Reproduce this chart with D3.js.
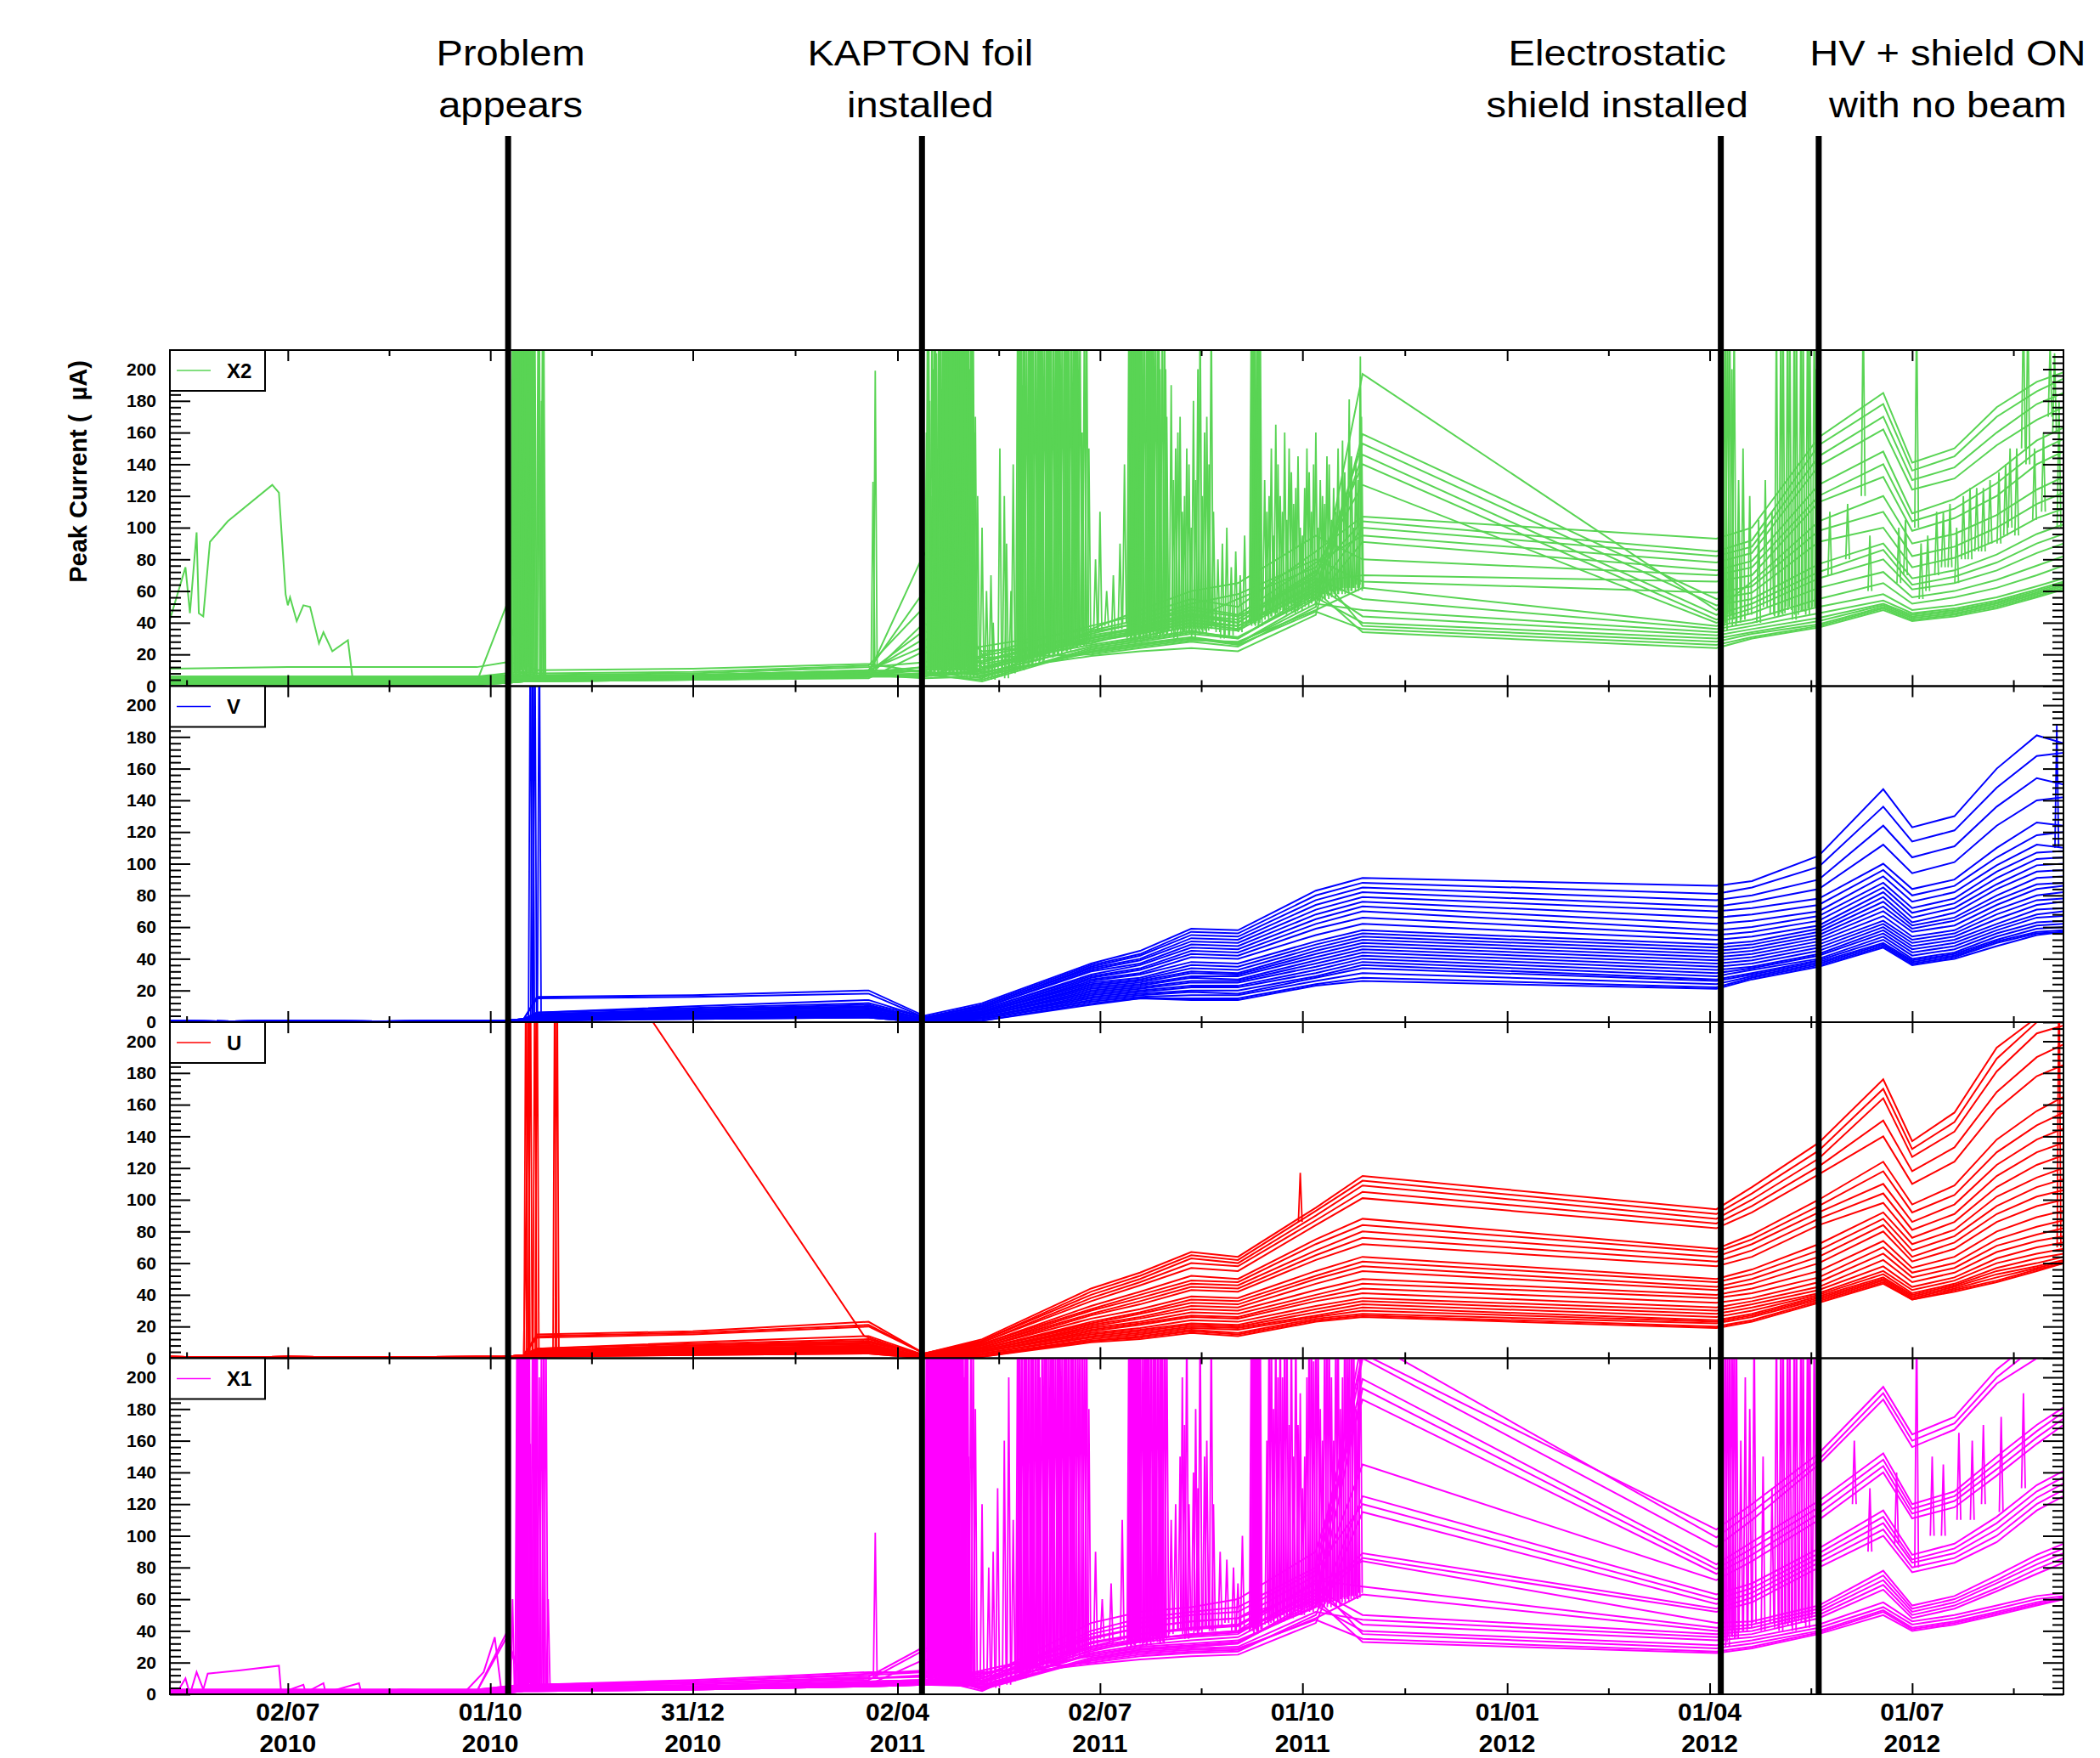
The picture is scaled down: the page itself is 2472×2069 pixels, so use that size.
<!DOCTYPE html>
<html>
<head>
<meta charset="utf-8">
<script src="https://cdn.jsdelivr.net/npm/d3@7"></script>
<style>
  body { margin: 0; background: #fff; }
  svg text { font-family: "Liberation Sans", Arial, Helvetica, sans-serif; }
</style>
</head>
<body>
<svg id="chart" width="2472" height="2069"></svg>
<script>
// ---------------- data ----------------
// common sampling dates for the channel tables (one row per date, one column per channel)
const sampleDates = ["2010-05-10","2010-07-02","2010-09-25","2010-10-08","2010-10-16","2010-10-22","2010-12-31",
  "2011-03-20","2011-04-14","2011-05-10","2011-06-28","2011-07-20","2011-08-12","2011-09-02","2011-10-07",
  "2011-10-28","2012-04-04","2012-04-20","2012-05-20","2012-06-18","2012-07-01","2012-07-20","2012-08-08",
  "2012-08-26","2012-09-07"];

const x2Values = [
  [3,5,2,4,1,6,3,2,5,1,4,2,3,6,11,1,2,5,3,4,2,1],
  [3,5,2,4,1,6,3,2,5,1,4,2,3,6,12,1,2,5,3,4,2,1],
  [3,6,2,4,1,6,3,2,5,1,4,2,3,6,12,1,2,5,3,4,2,1],
  [4,6,3,5,2,7,4,3,6,2,5,3,4,8,15,2,3,6,50,5,3,2],
  [5,7,4,6,3,8,5,4,7,3,6,4,5,9,14,3,4,7,8,6,4,3],
  [5,6,4,6,3,7,5,4,6,3,5,4,5,8,10,3,4,6,5,5,4,3],
  [6,7,5,7,4,8,6,5,7,4,6,5,6,9,11,4,5,7,6,6,5,4],
  [8,10,6,9,5,12,8,7,10,6,9,7,8,13,14,6,7,10,8,9,7,6],
  [84,60,40,30,22,15,12,10,9,8,35,7,10,50,9,6,8,25,7,12,5,6],
  [20,12,8,15,6,25,10,18,5,9,14,4,11,22,7,16,3,12,8,19,6,10],
  [38,30,25,33,22,36,28,20,35,19,26,24,31,27,21,34,23,29,25,32,22,30],
  [45,38,30,40,26,48,33,24,42,22,31,28,36,35,25,40,27,34,29,37,26,35],
  [55,46,35,50,30,60,40,28,52,24,38,33,44,42,29,48,31,40,34,45,30,42],
  [50,40,30,45,27,65,36,25,58,22,35,30,40,55,28,44,27,38,31,42,26,38],
  [85,72,60,78,55,95,66,50,80,45,62,58,70,75,48,68,52,64,56,73,47,60],
  [107,104,100,95,91,80,70,197,66,159,153,146,140,127,62,55,48,44,40,38,36,34],
  [93,85,82,78,73,70,66,48,59,55,51,45,42,40,38,36,34,32,30,28,26,24],
  [100,92,88,84,79,75,70,66,63,59,55,52,49,46,42,40,38,36,34,33,31,30],
  [157,152,145,139,127,120,116,104,98,91,77,72,68,62,55,50,46,43,41,39,38,37],
  [185,178,170,162,148,140,132,120,110,100,90,86,80,72,65,58,54,52,51,50,49,48],
  [141,136,130,124,109,104,98,90,82,75,68,64,61,56,52,48,46,45,44,43,42,41],
  [150,145,138,131,118,112,106,96,88,81,73,69,65,60,56,51,49,48,47,46,45,44],
  [176,170,160,152,135,128,120,108,100,92,83,78,73,67,62,56,54,53,52,51,50,49],
  [192,186,178,168,155,148,140,124,115,106,96,90,84,76,70,63,61,60,59,58,57,56],
  [198,194,185,176,163,156,148,132,122,112,102,96,90,82,76,68,66,65,64,63,62,61]
];

const vValues = [
  [0,0,1,0,0,1,0,0,1,0,0,1,0,0,1,0,0,1,0,0,1,0,0,1,0,0],
  [0,1,0,0,1,0,0,1,0,0,1,0,0,1,0,0,1,0,0,1,0,0,1,0,0,1],
  [1,0,0,1,0,0,1,0,0,1,0,0,1,0,0,1,0,0,1,0,0,1,0,0,1,0],
  [1,1,1,1,1,1,1,1,1,1,1,1,1,0,1,1,0,1,1,0,1,1,0,1,1,0],
  [2,2,2,2,2,1,1,1,1,1,1,1,1,1,1,1,1,1,1,1,1,1,1,1,1,1],
  [16,15,6,6,5,5,5,5,4,4,4,4,3,3,3,3,3,3,2,2,2,2,2,1,1,1],
  [17,16,10,9,8,8,7,7,7,6,6,6,5,5,5,5,4,4,4,4,3,3,3,3,2,2],
  [20,18,14,12,11,10,10,9,9,8,8,7,7,7,6,6,6,5,5,5,4,4,4,3,3,3],
  [4,3,3,3,2,2,2,2,2,1,1,1,1,1,1,1,1,0,0,0,0,0,0,0,0,0],
  [12,11,10,10,9,9,8,8,7,7,6,6,6,5,5,5,4,4,4,3,3,3,2,2,1,1],
  [37,36,35,34,33,32,30,29,28,27,26,25,24,23,22,21,20,19,18,17,16,15,14,13,12,11],
  [45,43,42,40,39,37,36,34,33,31,30,28,27,26,25,24,23,22,21,20,19,18,17,16,15,15],
  [59,57,55,53,51,49,47,45,43,41,38,36,34,32,31,29,28,26,25,23,22,20,19,17,15,14],
  [58,56,54,52,50,48,46,44,42,40,37,35,33,31,30,29,27,26,25,23,22,20,18,17,15,14],
  [83,80,77,74,71,68,65,62,59,55,51,49,47,45,43,41,39,37,35,33,31,29,28,26,24,23],
  [91,88,85,82,79,76,73,70,66,62,58,56,54,52,50,48,46,44,42,40,38,36,34,31,28,26],
  [86,81,77,73,70,66,62,58,55,52,49,47,45,43,41,39,37,35,33,31,29,27,26,24,22,21],
  [89,85,80,76,72,68,64,60,57,54,51,49,47,45,43,41,39,37,35,34,33,31,30,29,28,27],
  [105,98,90,84,78,74,70,67,64,61,59,57,55,53,51,49,47,45,43,42,40,39,38,37,36,35],
  [147,136,124,112,100,96,92,88,85,82,79,76,73,70,67,64,62,60,58,56,54,52,50,49,48,47],
  [123,114,104,94,84,80,76,72,69,66,63,61,59,57,54,52,50,48,46,44,42,40,39,38,37,36],
  [130,121,111,101,90,86,82,78,75,72,69,66,64,61,58,56,54,52,50,48,46,44,43,42,41,40],
  [160,148,136,124,110,104,99,95,91,87,84,80,77,74,71,68,65,62,60,58,56,54,52,51,50,48],
  [181,168,154,140,126,118,112,107,103,99,95,91,87,84,80,77,74,71,68,66,63,61,59,57,56,55],
  [176,170,150,142,124,120,110,108,104,100,96,92,88,86,82,78,76,72,70,67,64,62,60,58,57,57]
];

const uValues = [
  [0,1,0,0,1,0,0,1,0,0,1,0,0,1,0,0,1,0,0,1,0,0,1,0,0,1],
  [1,0,0,1,0,0,1,0,0,1,0,0,1,0,0,1,0,0,1,0,0,1,0,0,1,0],
  [0,0,1,0,0,1,0,0,1,0,0,1,0,0,1,0,0,1,0,0,1,0,0,1,0,0],
  [1,1,1,1,1,1,1,1,1,1,1,1,1,0,1,1,0,1,1,0,1,1,0,1,0,0],
  [2,2,2,2,2,2,1,1,1,1,1,1,1,1,1,1,1,1,1,1,1,1,1,1,1,1],
  [15,14,13,6,6,5,5,5,5,4,4,4,4,3,3,3,3,3,3,2,2,2,2,1,1,1],
  [17,16,15,10,9,8,8,7,7,7,6,6,6,5,5,5,5,4,4,4,4,3,3,3,2,2],
  [23,21,20,14,12,11,10,10,9,9,8,8,7,7,7,6,6,6,5,5,5,4,4,4,3,3],
  [3,3,3,2,2,2,2,2,1,1,1,1,1,1,1,1,1,0,0,0,0,0,0,0,0,0],
  [12,11,11,10,10,9,9,8,8,7,7,6,6,6,5,5,5,4,4,4,3,3,2,2,1,1],
  [44,42,40,38,36,33,31,30,28,27,25,23,22,21,20,19,18,17,16,15,14,13,12,11,11,10],
  [54,52,50,48,46,42,40,38,36,34,31,29,28,26,25,23,22,21,19,18,17,16,15,14,13,12],
  [67,65,63,60,57,52,49,47,45,43,39,37,35,33,31,29,27,26,24,22,21,20,19,18,17,16],
  [64,62,60,58,55,50,48,46,44,42,38,36,34,32,30,28,26,25,23,21,20,19,18,16,15,14],
  [95,93,90,87,84,75,72,68,65,62,55,52,50,47,43,40,38,36,33,31,29,27,26,25,24,23],
  [115,112,109,105,101,88,84,80,76,72,64,61,58,55,50,47,44,41,38,36,34,32,30,28,27,26],
  [94,91,88,85,82,69,67,64,61,58,50,48,45,43,40,38,35,32,30,28,26,24,23,22,20,19],
  [108,104,100,96,92,78,75,72,68,64,56,53,50,47,44,41,38,36,34,32,30,28,27,26,24,23],
  [136,131,126,121,116,100,96,92,88,84,72,68,64,60,55,51,48,45,43,41,40,39,38,37,36,35],
  [176,170,164,150,140,124,118,110,104,98,92,88,84,80,74,70,66,62,58,55,53,51,50,49,48,47],
  [137,132,127,118,110,97,92,86,81,76,72,68,64,61,57,54,51,48,45,43,41,40,39,38,37,37],
  [155,149,143,133,124,109,103,97,91,86,81,77,73,69,64,60,57,54,51,49,47,46,45,44,43,42],
  [196,189,181,168,157,138,130,122,115,108,102,96,91,86,80,75,71,67,63,60,57,55,53,51,49,48],
  [215,212,205,190,178,156,147,138,130,122,114,108,102,96,89,83,78,74,70,66,63,60,58,57,56,55],
  [225,218,210,198,185,165,155,145,136,128,120,113,106,100,93,87,82,77,73,69,66,64,62,61,60,60]
];

const x1Values = [
  [1,0,2,1,0,1,2,0,1,3,0,1,2,0,1,0,2,1,0,1,3,0],
  [1,0,2,1,0,1,2,0,1,3,0,1,2,0,1,0,2,1,0,1,3,0],
  [1,1,2,1,0,1,2,1,1,3,0,1,2,1,1,0,2,1,1,1,3,0],
  [3,2,35,2,1,3,4,2,3,5,1,2,4,2,3,1,38,3,2,3,5,1],
  [4,3,5,3,2,4,5,3,4,6,2,3,5,3,4,2,6,4,3,4,6,2],
  [4,3,5,3,2,4,5,3,4,6,2,3,5,3,4,2,6,4,3,4,6,2],
  [6,4,7,4,3,5,7,4,5,8,3,4,7,4,5,3,8,5,4,5,9,3],
  [9,6,10,6,5,8,11,6,8,12,5,6,10,6,7,5,13,8,6,7,14,5],
  [28,7,12,22,6,9,30,7,9,14,6,8,11,7,8,6,15,9,7,8,14,6],
  [8,15,4,12,6,10,3,14,7,11,5,13,2,9,6,12,4,8,5,10,3,7],
  [40,30,22,36,25,45,28,20,38,19,26,24,33,27,21,35,23,30,25,32,22,29],
  [48,38,28,42,30,52,33,24,45,22,31,28,38,34,25,42,27,35,29,38,26,34],
  [52,42,30,46,32,55,36,26,50,24,34,30,42,38,27,46,29,37,31,41,28,38],
  [55,44,32,48,34,60,38,27,52,25,36,32,44,40,28,48,30,39,33,43,29,40],
  [80,70,60,75,55,90,66,50,78,45,62,58,70,72,48,66,52,64,56,70,47,60],
  [215,225,212,199,193,186,145,125,120,115,89,86,84,68,63,50,47,44,40,38,35,33],
  [104,99,93,82,79,76,72,63,60,57,54,52,45,42,40,38,36,34,31,29,27,26],
  [120,115,110,96,92,88,84,70,67,64,61,58,46,44,42,40,38,36,34,32,30,29],
  [152,148,145,122,118,114,110,92,89,86,83,80,56,54,52,50,48,44,42,40,39,38],
  [194,190,186,152,148,144,140,116,112,108,104,100,78,75,72,69,66,58,55,53,52,50],
  [164,160,156,120,117,114,111,88,85,83,80,77,56,54,52,50,48,46,44,42,41,40],
  [175,171,167,128,125,122,118,95,92,89,86,83,62,60,58,56,54,50,48,46,45,44],
  [205,200,196,150,146,142,138,112,108,104,100,96,75,72,70,67,65,56,54,52,51,50],
  [225,220,212,170,166,162,158,132,128,124,120,116,88,85,82,79,76,62,60,58,57,56],
  [235,228,220,181,178,174,170,141,137,133,129,125,95,92,89,86,83,64,62,61,60,60]
];

// channels that need their own dates
const x2Hump = [["2010-05-10",42],["2010-05-17",75],["2010-05-19",46],["2010-05-22",97],["2010-05-23",46],
  ["2010-05-25",44],["2010-05-28",91],["2010-06-05",104],["2010-06-25",127],["2010-06-28",122],["2010-07-01",58],
  ["2010-07-02",51],["2010-07-03",56],["2010-07-06",41],["2010-07-09",51],["2010-07-12",50],["2010-07-16",27],
  ["2010-07-18",34],["2010-07-22",22],["2010-07-29",29],["2010-07-31",6],["2010-08-05",3],["2010-09-25",3],["2010-10-08",6]];
const x1Hump = [["2010-05-10",1],["2010-05-14",3],["2010-05-17",10],["2010-05-19",0],["2010-05-22",14],["2010-05-25",3],
  ["2010-05-27",13],["2010-06-10",15],["2010-06-28",18],["2010-06-29",1],["2010-07-09",6],["2010-07-10",1],["2010-07-18",7],
  ["2010-07-19",1],["2010-08-03",7],["2010-08-04",1],["2010-08-22",3],["2010-09-20",2],["2010-09-28",14],["2010-10-03",36],["2010-10-06",2]];
const uDiagonal = [["2010-10-16",2],["2010-10-20",325],["2011-03-18",14],["2011-04-14",1]];

// short bursts: [date(Thour), level before/after, peak]
const x2Spikes = [
  ["2010-10-11",8,240],["2010-10-12",6,240],["2010-10-13",8,240],["2010-10-14",10,240],["2010-10-15",6,240],["2010-10-16",8,240],
  ["2010-10-17",12,240],["2010-10-18",6,240],["2010-10-19",9,240],["2010-10-20",7,240],["2010-10-21",5,240],["2010-10-23",8,240],
  ["2010-10-24",6,180],["2010-10-25",5,240],
  ["2010-10-11T12",7,240],["2010-10-12T12",9,240],["2010-10-13T12",6,240],["2010-10-14T12",8,240],["2010-10-15T12",10,240],
  ["2010-10-16T12",7,240],["2010-10-17T12",6,240],["2010-10-18T12",9,240],["2010-10-19T12",7,240],["2010-10-20T12",8,240],
  ["2010-10-22T12",6,240],["2010-10-24T12",7,240],
  ["2011-03-22",12,129],["2011-03-23",12,199],
  ["2011-04-15",10,160],["2011-04-16",8,240],["2011-04-17",12,120],["2011-04-18",6,200],["2011-04-19",10,240],["2011-04-20",14,150],
  ["2011-04-21",8,240],["2011-04-22",10,180],["2011-04-23",6,240],["2011-04-24",12,240],["2011-04-25",9,240],["2011-04-26",7,240],
  ["2011-04-27",11,240],["2011-04-28",8,240],["2011-04-29",10,240],["2011-04-30",6,240],["2011-05-01",9,240],["2011-05-02",12,240],
  ["2011-05-03",7,240],["2011-05-04",5,240],["2011-05-05",10,240],["2011-05-06",8,240],["2011-05-07",6,170],["2011-05-08",9,120],
  ["2011-04-15T12",9,240],["2011-04-16T12",11,180],["2011-04-17T12",8,240],["2011-04-18T12",10,240],["2011-04-19T12",7,210],
  ["2011-04-20T12",12,240],["2011-04-21T12",9,240],["2011-04-22T12",6,240],["2011-04-23T12",10,240],["2011-04-24T12",8,240],
  ["2011-04-25T12",11,240],["2011-04-26T12",7,240],["2011-04-27T12",9,240],["2011-04-28T12",12,240],["2011-04-29T12",8,240],
  ["2011-04-30T12",10,240],["2011-05-01T12",7,240],["2011-05-02T12",9,240],["2011-05-03T12",11,240],["2011-05-04T12",8,200],
  ["2011-05-05T12",6,240],["2011-05-06T12",10,160],
  ["2011-05-10",8,100],["2011-05-12",5,60],["2011-05-14",6,70],["2011-05-15",4,40],["2011-05-18",6,150],["2011-05-20",7,120],
  ["2011-05-21",5,90],["2011-05-23",9,60],["2011-05-24",8,140],
  ["2011-05-26",12,240],["2011-05-27",15,240],["2011-05-28",10,190],["2011-05-29",14,240],["2011-05-31",16,240],["2011-06-01",12,240],
  ["2011-06-02",18,240],["2011-06-04",15,240],["2011-06-05",20,240],["2011-06-06",16,240],["2011-06-08",18,240],["2011-06-09",22,240],
  ["2011-06-10",18,240],["2011-06-12",20,240],["2011-06-13",24,240],["2011-06-14",20,240],["2011-06-16",22,240],["2011-06-17",25,240],
  ["2011-06-18",22,240],["2011-06-20",26,240],["2011-06-21",24,240],["2011-06-22",28,240],["2011-06-24",25,160],["2011-06-26",30,240],
  ["2011-05-26T12",14,240],["2011-05-27T12",12,240],["2011-05-28T12",16,240],["2011-05-30",14,240],["2011-05-31T12",13,240],
  ["2011-06-01T12",17,240],["2011-06-03",16,240],["2011-06-04T12",18,240],["2011-06-05T12",15,240],["2011-06-07",20,240],
  ["2011-06-08T12",19,240],["2011-06-09T12",21,240],["2011-06-11",22,240],["2011-06-12T12",20,240],["2011-06-13T12",23,240],
  ["2011-06-15",24,240],["2011-06-16T12",22,240],["2011-06-17T12",26,240],["2011-06-19",25,240],["2011-06-20T12",24,240],
  ["2011-06-21T12",27,240],["2011-06-23",28,240],["2011-06-25",26,240],["2011-06-27",30,150],
  ["2011-06-30",35,80],["2011-07-02",35,110],["2011-07-05",38,60],["2011-07-08",30,70],["2011-07-11",36,90],["2011-07-13",40,140],
  ["2011-07-15",30,240],["2011-07-16",32,240],["2011-07-17",28,240],["2011-07-18",35,240],["2011-07-19",30,240],["2011-07-20",33,240],
  ["2011-07-21",28,240],["2011-07-23",35,240],["2011-07-24",30,240],["2011-07-25",32,240],["2011-07-26",36,240],["2011-07-28",30,240],
  ["2011-07-29",34,200],["2011-07-31",32,240],["2011-08-01",35,170],
  ["2011-07-15T12",31,240],["2011-07-16T12",29,240],["2011-07-17T12",33,240],["2011-07-18T12",30,240],["2011-07-19T12",34,240],
  ["2011-07-20T12",31,240],["2011-07-22",33,240],["2011-07-23T12",30,240],["2011-07-24T12",34,240],["2011-07-25T12",31,240],
  ["2011-07-27",35,240],["2011-07-28T12",32,240],["2011-07-30",34,240],["2011-07-31T12",33,200],
  ["2011-08-03",35,190],["2011-08-04",32,130],["2011-08-05",30,150],["2011-08-06",36,160],["2011-08-07",35,170],["2011-08-08",34,110],
  ["2011-08-09",32,120],["2011-08-10",35,150],["2011-08-11",36,140],["2011-08-12",33,100],["2011-08-13",30,180],["2011-08-14",36,130],
  ["2011-08-15",34,200],["2011-08-16",35,240],["2011-08-17",36,120],["2011-08-18",33,160],["2011-08-19",35,170],["2011-08-20",37,140],
  ["2011-08-21",38,240],["2011-08-22",36,110],["2011-08-24",34,80],
  ["2011-08-26",30,90],["2011-08-28",32,100],["2011-08-30",32,75],["2011-09-01",35,85],["2011-09-03",34,70],["2011-09-05",38,95],
  ["2011-09-08",40,240],["2011-09-09",38,240],["2011-09-10",42,180],["2011-09-11",40,240],["2011-09-12",38,240],
  ["2011-09-08T12",39,240],["2011-09-09T12",41,240],["2011-09-10T12",39,240],["2011-09-11T12",42,240],
  ["2011-09-14",45,130],["2011-09-15",42,110],["2011-09-16",44,120],["2011-09-17",48,150],["2011-09-18",44,95],["2011-09-19",46,165],
  ["2011-09-20",46,140],["2011-09-21",50,120],["2011-09-22",48,110],["2011-09-23",45,160],["2011-09-24",48,105],["2011-09-25",50,150],
  ["2011-09-26",52,135],["2011-09-27",46,115],["2011-09-28",47,125],["2011-09-29",50,145],["2011-09-30",48,100],["2011-10-01",52,95],
  ["2011-10-02",54,125],["2011-10-03",50,150],["2011-10-04",53,135],["2011-10-05",55,110],["2011-10-06",52,140],["2011-10-07",54,160],
  ["2011-10-08",56,100],["2011-10-09",54,130],["2011-10-10",56,120],["2011-10-11",58,115],["2011-10-12",55,145],["2011-10-13",57,140],
  ["2011-10-14",60,105],["2011-10-15",56,125],["2011-10-16",58,110],["2011-10-17",60,150],["2011-10-18",58,110],["2011-10-19",60,155],
  ["2011-10-20",62,135],["2011-10-21",58,120],["2011-10-22",60,181],["2011-10-23",62,145],["2011-10-24",60,100],["2011-10-25",62,140],
  ["2011-10-26",64,130],["2011-10-27",60,208],["2011-10-27T12",62,170],
  ["2012-04-06",40,240],["2012-04-06T12",42,240],["2012-04-07",38,240],["2012-04-08",35,240],["2012-04-09",40,240],["2012-04-10",45,240],
  ["2012-04-11",42,200],["2012-04-12",38,240],["2012-04-14",40,130],["2012-04-16",42,150],["2012-04-19",45,120],["2012-04-23",40,105],
  ["2012-04-26",50,130],["2012-04-29",45,110],["2012-05-01",44,240],["2012-05-03",45,240],["2012-05-04",46,240],["2012-05-06",50,240],
  ["2012-05-07",48,240],["2012-05-09",42,240],["2012-05-10",45,240],["2012-05-12",48,240],["2012-05-13",47,240],["2012-05-15",45,240],
  ["2012-05-16",49,240],["2012-05-18",50,240],["2012-05-19",50,200],
  ["2012-05-25",70,110],["2012-06-02",80,115],["2012-06-09",120,240],["2012-06-12",60,95],["2012-06-25",65,100],["2012-06-28",70,105],
  ["2012-07-03",100,240],["2012-07-05",55,90],["2012-07-08",60,95],["2012-07-12",70,110],["2012-07-15",75,110],["2012-07-18",75,115],
  ["2012-07-21",65,100],["2012-07-24",80,120],["2012-07-27",80,125],["2012-07-30",85,125],["2012-08-02",85,125],["2012-08-05",90,130],
  ["2012-08-09",90,135],["2012-08-12",95,140],["2012-08-14",100,150],["2012-08-17",95,150],["2012-08-20",150,240],["2012-08-22",140,240],
  ["2012-08-25",105,150],["2012-08-29",110,160],["2012-09-01",170,215],["2012-09-03",160,210],["2012-09-05",100,180]
];
const vSpikes = [["2010-10-19",2,260],["2010-10-20",3,260],["2010-10-21",2,260],["2010-10-23",4,260],["2012-09-04",110,188]];
const uSpikes = [["2010-10-17",2,260],["2010-10-18",3,260],["2010-10-19",2,260],["2010-10-21",4,260],["2010-10-22",3,260],
  ["2010-10-30",3,260],["2010-10-31",3,260],["2011-09-30",86,117],["2012-09-05",70,260]];
const x1Spikes = [
  ["2010-10-09",2,40],["2010-10-11",3,60],["2010-10-13",5,240],["2010-10-14",4,240],["2010-10-15",6,240],["2010-10-16",3,240],
  ["2010-10-17",5,240],["2010-10-18",7,240],["2010-10-19",4,158],["2010-10-20",6,240],["2010-10-21",3,240],["2010-10-22",5,240],
  ["2010-10-24",4,240],["2010-10-26",6,240],["2010-10-27",5,60],
  ["2010-10-13T12",4,240],["2010-10-14T12",6,240],["2010-10-15T12",5,240],["2010-10-16T12",4,240],["2010-10-17T12",6,240],
  ["2010-10-18T12",3,240],["2010-10-20T12",5,240],["2010-10-21T12",4,240],["2010-10-23",6,200],["2010-10-25",5,240],
  ["2011-03-23",10,102],
  ["2011-04-15",8,240],["2011-04-16",10,240],["2011-04-17",6,240],["2011-04-18",9,240],["2011-04-19",12,240],["2011-04-20",8,240],
  ["2011-04-21",6,240],["2011-04-22",10,240],["2011-04-23",7,240],["2011-04-24",9,240],["2011-04-25",11,240],["2011-04-26",8,240],
  ["2011-04-27",6,240],["2011-04-28",10,240],["2011-04-29",7,240],["2011-04-30",9,240],["2011-05-01",5,240],["2011-05-02",8,200],
  ["2011-05-03",6,240],["2011-05-04",10,150],["2011-05-05",7,240],["2011-05-07",5,180],
  ["2011-04-15T12",9,240],["2011-04-16T12",7,240],["2011-04-17T12",10,240],["2011-04-18T12",8,240],["2011-04-19T12",6,240],
  ["2011-04-20T12",9,240],["2011-04-21T12",11,240],["2011-04-22T12",7,240],["2011-04-23T12",9,240],["2011-04-24T12",6,240],
  ["2011-04-25T12",8,240],["2011-04-26T12",10,240],["2011-04-27T12",7,240],["2011-04-28T12",9,240],["2011-04-29T12",6,240],
  ["2011-04-30T12",8,240],["2011-05-01T12",10,220],["2011-05-02T12",7,240],["2011-05-03T12",9,240],["2011-05-06",6,240],
  ["2011-05-10",6,120],["2011-05-13",5,80],["2011-05-15",5,90],["2011-05-17",4,130],["2011-05-20",7,160],["2011-05-22",6,200],
  ["2011-05-24",8,110],
  ["2011-05-26",12,240],["2011-05-27",14,240],["2011-05-29",10,240],["2011-05-30",16,240],["2011-06-01",13,240],["2011-06-02",18,240],
  ["2011-06-04",15,240],["2011-06-05",20,200],["2011-06-07",17,240],["2011-06-08",19,240],["2011-06-10",22,240],["2011-06-11",18,240],
  ["2011-06-13",21,240],["2011-06-14",24,240],["2011-06-16",20,240],["2011-06-17",25,240],["2011-06-19",23,240],["2011-06-20",26,240],
  ["2011-06-22",24,240],["2011-06-24",28,240],["2011-06-26",25,240],
  ["2011-05-26T12",13,240],["2011-05-28",12,240],["2011-05-29T12",15,240],["2011-05-31",14,240],["2011-06-01T12",16,240],
  ["2011-06-03",17,240],["2011-06-04T12",16,240],["2011-06-06",19,240],["2011-06-07T12",18,240],["2011-06-09",21,240],
  ["2011-06-10T12",20,240],["2011-06-12",22,240],["2011-06-13T12",23,240],["2011-06-15",22,240],["2011-06-16T12",24,240],
  ["2011-06-18",25,240],["2011-06-19T12",24,240],["2011-06-21",26,240],["2011-06-23",27,240],["2011-06-25",26,240],["2011-06-27",28,180],
  ["2011-06-30",30,90],["2011-07-03",35,60],["2011-07-07",32,70],["2011-07-12",34,110],
  ["2011-07-15",30,240],["2011-07-16",34,240],["2011-07-17",30,240],["2011-07-18",36,240],["2011-07-19",32,240],["2011-07-20",35,240],
  ["2011-07-22",30,240],["2011-07-23",34,240],["2011-07-24",31,240],["2011-07-26",36,240],["2011-07-27",33,240],["2011-07-29",35,240],
  ["2011-07-30",32,240],["2011-08-01",36,240],
  ["2011-07-15T12",32,240],["2011-07-16T12",31,240],["2011-07-17T12",35,240],["2011-07-18T12",33,240],["2011-07-19T12",34,240],
  ["2011-07-21",32,240],["2011-07-22T12",33,240],["2011-07-23T12",35,240],["2011-07-25",33,240],["2011-07-26T12",34,240],
  ["2011-07-28",34,240],["2011-07-29T12",33,240],["2011-07-31",35,240],
  ["2011-08-03",38,110],["2011-08-05",40,120],["2011-08-07",40,150],["2011-08-08",40,200],["2011-08-09",38,170],["2011-08-10",35,240],
  ["2011-08-11",40,120],["2011-08-13",40,140],["2011-08-14",38,180],["2011-08-15",40,130],["2011-08-16",38,240],["2011-08-18",42,150],
  ["2011-08-19",42,160],["2011-08-21",40,240],["2011-08-22",40,120],
  ["2011-08-25",42,90],["2011-08-28",45,85],["2011-08-31",40,80],["2011-09-02",40,70],["2011-09-04",42,100],
  ["2011-09-08",40,240],["2011-09-09",42,240],["2011-09-10",38,240],["2011-09-11",44,240],["2011-09-12",40,240],
  ["2011-09-08T12",41,240],["2011-09-09T12",40,240],["2011-09-10T12",43,240],["2011-09-11T12",41,240],
  ["2011-09-15",44,160],["2011-09-16",45,240],["2011-09-17",46,240],["2011-09-18",48,180],["2011-09-19",44,240],["2011-09-20",48,200],
  ["2011-09-21",50,240],["2011-09-22",46,200],["2011-09-23",50,240],["2011-09-24",52,240],["2011-09-25",48,170],["2011-09-26",48,240],
  ["2011-09-27",50,150],["2011-09-28",52,240],["2011-09-29",54,170],["2011-09-30",50,190],["2011-10-01",50,130],["2011-10-02",54,150],
  ["2011-10-03",55,200],["2011-10-04",53,240],["2011-10-05",52,240],["2011-10-06",55,210],["2011-10-07",56,240],["2011-10-08",56,240],
  ["2011-10-09",54,180],["2011-10-10",55,160],["2011-10-11",58,240],["2011-10-12",57,240],["2011-10-13",55,240],["2011-10-14",58,200],
  ["2011-10-15",60,160],["2011-10-16",59,240],["2011-10-17",56,240],["2011-10-18",58,180],["2011-10-19",60,200],["2011-10-20",61,240],
  ["2011-10-21",58,240],["2011-10-22",60,220],["2011-10-23",62,240],["2011-10-24",62,240],["2011-10-25",60,180],["2011-10-26",61,200],
  ["2011-10-27",64,240],
  ["2012-04-06",38,240],["2012-04-07",35,240],["2012-04-08",33,240],["2012-04-09",30,240],["2012-04-10",37,240],["2012-04-11",40,240],
  ["2012-04-12",36,240],["2012-04-13",35,240],["2012-04-15",40,160],["2012-04-17",40,200],["2012-04-19",42,180],["2012-04-21",45,240],
  ["2012-04-25",40,150],["2012-04-29",45,130],["2012-05-01",42,240],["2012-05-03",40,240],["2012-05-04",44,240],["2012-05-06",45,240],
  ["2012-05-07",43,240],["2012-05-09",40,240],["2012-05-10",46,240],["2012-05-12",48,240],["2012-05-13",45,240],["2012-05-15",42,240],
  ["2012-05-16",48,240],["2012-05-18",50,240],
  ["2012-06-05",120,160],["2012-06-12",90,130],["2012-06-24",95,140],["2012-07-03",80,240],["2012-07-10",100,150],["2012-07-15",100,145],
  ["2012-07-22",110,165],["2012-07-28",110,160],["2012-08-02",120,170],["2012-08-10",115,175],["2012-08-20",130,190]
];

const seriesNames = ["X2", "V", "U", "X1"];
const seriesColors = ["#59d454", "#0000ff", "#ff0000", "#ff00ff"];

const xTickDates = ["2010-07-02","2010-10-01","2010-12-31","2011-04-02","2011-07-02","2011-10-01","2012-01-01","2012-04-01","2012-07-01"];
const yTickValues = [0, 20, 40, 60, 80, 100, 120, 140, 160, 180, 200];
const yMinorValues = [4,8,12,16,24,28,32,36,44,48,52,56,64,68,72,76,84,88,92,96,104,108,112,116,124,128,132,136,
  144,148,152,156,164,168,172,176,184,188,192,196,204,208];

const eventDates = ["2010-10-09", "2011-04-13", "2012-04-06", "2012-05-20"];
const eventLabels = [["Problem", "appears"], ["KAPTON foil", "installed"],
  ["Electrostatic", "shield installed"], ["HV + shield ON", "with no beam"]];

// ---------------- layout ----------------
const left = 200, right = 2429, top0 = 412, panelH = 395.5;
const pxPerUnit = 1.865;
const labelShift = [3, -2, -122, 152];   // horizontal offset of each event caption from its line
const spikeHalfHours = 20;

const parseDay = d3.utcParse("%Y-%m-%d"), parseHour = d3.utcParse("%Y-%m-%dT%H");
const parse = s => (s.length > 10 ? parseHour : parseDay)(s);
const dates = sampleDates.map(parse);
const svg = d3.select("#chart");

const x = d3.scaleUtc()
  .domain([parse("2010-05-10"), parse("2012-09-07")])
  .range([left, right]);

// major ticks at the labelled dates, one minor tick half way between
const majors = xTickDates.map(parse);
const step = majors[1] - majors[0];
const minors = [new Date(majors[0] - step / 2)]
  .concat(d3.pairs(majors).map(([a, b]) => new Date((+a + +b) / 2)))
  .concat([new Date(+majors[majors.length - 1] + step / 2)])
  .filter(d => d >= x.domain()[0] && d <= x.domain()[1]);

const panels = [
  { values: x2Values, spikes: x2Spikes, extra: [x2Hump] },
  { values: vValues, spikes: vSpikes, extra: [] },
  { values: uValues, spikes: uSpikes, extra: [uDiagonal] },
  { values: x1Values, spikes: x1Spikes, extra: [x1Hump] }
];

const fontFam = "Liberation Sans, Arial, Helvetica, sans-serif";

panels.forEach((p, i) => {
  const top = top0 + i * panelH, bottom = top + panelH;
  const color = seriesColors[i];
  const y = d3.scaleLinear().domain([0, panelH / pxPerUnit]).range([bottom, top]);
  const line = d3.line().x(d => x(d[0])).y(d => y(d[1]));

  svg.append("clipPath").attr("id", "clip" + i)
    .append("rect").attr("x", left).attr("y", top)
    .attr("width", right - left).attr("height", panelH);

  const plot = svg.append("g").attr("clip-path", `url(#clip${i})`)
    .attr("fill", "none").attr("stroke", color).attr("stroke-width", 2);

  // regular channels
  const nChan = p.values[0].length;
  const channels = d3.range(nChan).map(j => dates.map((d, k) => [d, p.values[k][j]]));
  plot.selectAll("path.ch").data(channels).join("path")
    .attr("class", "ch").attr("d", line);

  // channels with their own dates
  plot.selectAll("path.ex").data(p.extra).join("path")
    .attr("class", "ex")
    .attr("d", s => line(s.map(([d, v]) => [parse(d), v])));

  // bursts
  plot.selectAll("path.sp").data(p.spikes).join("path")
    .attr("class", "sp")
    .attr("stroke-width", 1.8)
    .attr("d", ([d, base, peak]) => {
      const t = parse(d);
      return line([[d3.utcHour.offset(t, -spikeHalfHours), base], [t, peak], [d3.utcHour.offset(t, spikeHalfHours), base]]);
    });

  // axes
  const styleAxis = g => {
    g.select(".domain").remove();
    g.selectAll(".tick line").attr("stroke-width", 2);
    g.attr("font-family", fontFam).attr("font-size", 21).attr("font-weight", "bold");
  };
  svg.append("g").attr("transform", `translate(${left},0)`)
    .call(d3.axisLeft(y).tickValues(yTickValues).tickSizeInner(-24).tickSizeOuter(0).tickPadding(16))
    .call(styleAxis);
  svg.append("g").attr("transform", `translate(${left},0)`)
    .call(d3.axisLeft(y).tickValues(yMinorValues).tickSize(-13).tickFormat(""))
    .call(styleAxis);
  svg.append("g").attr("transform", `translate(${right},0)`)
    .call(d3.axisRight(y).tickValues(yTickValues).tickSize(-24).tickFormat(""))
    .call(styleAxis);
  svg.append("g").attr("transform", `translate(${right},0)`)
    .call(d3.axisRight(y).tickValues(yMinorValues).tickSize(-13).tickFormat(""))
    .call(styleAxis);
  [[d3.axisBottom, bottom], [d3.axisTop, top]].forEach(([ax, pos]) => {
    svg.append("g").attr("transform", `translate(0,${pos})`)
      .call(ax(x).tickValues(majors).tickSize(-13).tickFormat(""))
      .call(styleAxis);
    svg.append("g").attr("transform", `translate(0,${pos})`)
      .call(ax(x).tickValues(minors).tickSize(-7).tickFormat(""))
      .call(styleAxis);
  });

  // frame
  svg.append("rect").attr("x", left).attr("y", top)
    .attr("width", right - left).attr("height", panelH)
    .attr("fill", "none").attr("stroke", "#000").attr("stroke-width", 2);

  // legend
  const lg = svg.append("g");
  lg.append("rect").attr("x", left).attr("y", top).attr("width", 112).attr("height", 48)
    .attr("fill", "#fff").attr("stroke", "#000").attr("stroke-width", 2);
  lg.append("line").attr("x1", left + 8).attr("x2", left + 48)
    .attr("y1", top + 24).attr("y2", top + 24)
    .attr("stroke", color).attr("stroke-width", 1.5);
  lg.append("text").attr("x", left + 67).attr("y", top + 24)
    .attr("dominant-baseline", "central")
    .attr("font-size", 24).attr("font-weight", "bold")
    .text(seriesNames[i]);
});

// x tick labels under the last panel
const fmtDay = d3.utcFormat("%d/%m"), fmtYear = d3.utcFormat("%Y");
const xl = svg.append("g").attr("font-size", 30).attr("font-weight", "bold").attr("text-anchor", "middle");
xl.selectAll("text.d").data(majors).join("text").attr("class", "d")
  .attr("x", d => x(d)).attr("y", 2025).text(fmtDay);
xl.selectAll("text.y").data(majors).join("text").attr("class", "y")
  .attr("x", d => x(d)).attr("y", 2062).text(fmtYear);

// y title
svg.append("text")
  .attr("transform", "translate(92,555) rotate(-90)")
  .attr("text-anchor", "middle").attr("dominant-baseline", "central")
  .attr("font-size", 29).attr("font-weight", "bold")
  .text("Peak Current (\u00a0\u00a0\u00b5A)");

// event lines and captions
eventDates.forEach((d, i) => {
  const ex = x(parse(d));
  svg.append("line").attr("x1", ex).attr("x2", ex).attr("y1", 160).attr("y2", 1993)
    .attr("stroke", "#000").attr("stroke-width", 7);
  const cap = svg.append("g")
    .attr("transform", `translate(${ex + labelShift[i]},0) scale(1.12,1)`)
    .attr("text-anchor", "middle").attr("font-size", 42);
  cap.append("text").attr("x", 0).attr("y", 77).text(eventLabels[i][0]);
  cap.append("text").attr("x", 0).attr("y", 138).text(eventLabels[i][1]);
});
</script>
</body>
</html>
